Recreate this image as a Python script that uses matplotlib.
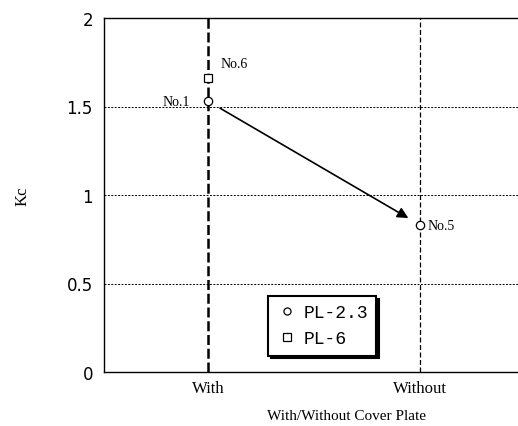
import numpy as np
import matplotlib.pyplot as plt

# Kc with / without cover plate
categories = ["With", "Without"]
pl23_x = [1, 2]
pl23_kc = [1.53, 0.83]
pl23_names = ["No.1", "No.5"]
pl6_x = [1]
pl6_kc = [1.66]
pl6_names = ["No.6"]
yticks = [0, 0.5, 1, 1.5, 2]
ytick_labels = ["0", "0.5", "1", "1.5", "2"]

serif = "Liberation Serif"
mono = "Liberation Mono"

fig = plt.figure(figsize=(5.18, 4.27), dpi=100)
ax = fig.add_axes([104 / 518, 54 / 427, 414 / 518, 354 / 427])

# grid lines
for y in [0.5, 1, 1.5]:
    ax.axhline(y, color="black", lw=0.7, ls=(0, (2, 1.5)), zorder=1)
ax.axvline(1, color="black", lw=1.8, ls=(0, (4, 1.5)), zorder=1)
ax.axvline(2, color="black", lw=0.9, ls=(0, (4, 2)), zorder=1)

ax.plot(pl23_x, pl23_kc, ls="none", marker="o", ms=6, mfc="white",
        mec="black", mew=0.9, label="PL-2.3", zorder=3)
ax.plot(pl6_x, pl6_kc, ls="none", marker="s", ms=6, mfc="white",
        mec="black", mew=0.9, label="PL-6", zorder=3)

# arrow from No.1 to No.5
ax.annotate("", xy=(pl23_x[1], pl23_kc[1]), xytext=(pl23_x[0], pl23_kc[0]),
            arrowprops=dict(arrowstyle="-|>", color="black", lw=1.2,
                            shrinkA=10, shrinkB=10, mutation_scale=16),
            zorder=2)

ax.annotate(pl23_names[0], (pl23_x[0], pl23_kc[0]), xytext=(-13, 0),
            textcoords="offset points", ha="right", va="center",
            fontfamily=serif, fontsize=10)
ax.annotate(pl23_names[1], (pl23_x[1], pl23_kc[1]), xytext=(5, 0),
            textcoords="offset points", ha="left", va="center",
            fontfamily=serif, fontsize=10)
ax.annotate(pl6_names[0], (pl6_x[0], pl6_kc[0]), xytext=(9, 6),
            textcoords="offset points", ha="left", va="bottom",
            fontfamily=serif, fontsize=10)

ax.set_xlim(0.51, 2.46)
ax.set_ylim(0, 2)
ax.set_xticks(pl23_x)
ax.set_xticklabels(categories, fontfamily=serif, fontsize=12)
ax.set_yticks(yticks)
ax.set_yticklabels(ytick_labels, fontsize=12)
ax.tick_params(length=0, pad=8)
ax.tick_params(axis="x", pad=6)
ax.spines["right"].set_visible(False)
for s in ["left", "top", "bottom"]:
    ax.spines[s].set_linewidth(1.0)

ax.set_xlabel("With/Without Cover Plate", fontfamily=serif, fontsize=11,
              labelpad=8)
ax.xaxis.set_label_coords(0.585, -0.105)
ax.set_ylabel("Kc", fontfamily=serif, fontsize=12, labelpad=26)

leg = ax.legend(loc="center", bbox_to_anchor=(0.527, 0.13), frameon=True,
                fancybox=False, shadow={"color": "black", "alpha": 1},
                edgecolor="black", prop={"family": mono, "size": 13},
                handletextpad=0.3, borderpad=0.45, labelspacing=0.5,
                handlelength=1.2, markerscale=0.85)
leg.get_frame().set_linewidth(1.5)

fig.savefig("out.png", dpi=100)
